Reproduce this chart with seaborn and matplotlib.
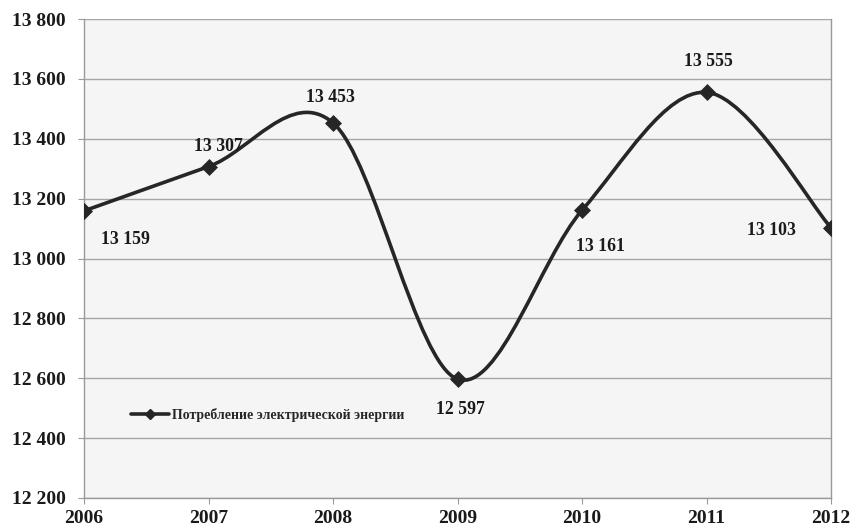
import matplotlib
matplotlib.use("Agg")
import matplotlib.pyplot as plt
import seaborn as sns
import numpy as np
from matplotlib.path import Path
from matplotlib.patches import PathPatch
from matplotlib.lines import Line2D
from matplotlib.ticker import FuncFormatter, MultipleLocator

years = [2006, 2007, 2008, 2009, 2010, 2011, 2012]
consumption = [13159, 13307, 13453, 12597, 13161, 13555, 13103]
series_name = "Потребление электрической энергии"

# label offsets in pixels (dx, dy) relative to each point
label_offsets = [(41, -29), (10, 20), (-3, 25), (3, -30), (18, -36), (2, 31), (-60, -3)]

line_color = "#262626"


def fmt_space(v, pos=None):
    return f"{int(round(v)):,}".replace(",", " ")


def smooth_path(xs, ys):
    # Excel-like smoothed line: cubic Bezier with Catmull-Rom control points
    pts = np.column_stack([xs, ys]).astype(float)
    n = len(pts)
    verts = [pts[0]]
    codes = [Path.MOVETO]
    for i in range(n - 1):
        p_prev = pts[i - 1] if i > 0 else pts[i]
        p_next2 = pts[i + 2] if i + 2 < n else pts[i + 1]
        c1 = pts[i] + (pts[i + 1] - p_prev) / 6
        c2 = pts[i + 1] - (p_next2 - pts[i]) / 6
        verts += [c1, c2, pts[i + 1]]
        codes += [Path.CURVE4] * 3
    return Path(verts, codes)


sns.set_style("white")
plt.rcParams["font.family"] = ["Liberation Serif", "DejaVu Serif"]
plt.rcParams["font.weight"] = "bold"

fig = plt.figure(figsize=(8.51, 5.27), dpi=100)
ax = fig.add_axes([84 / 851, 29 / 527, 747 / 851, 479 / 527])
ax.set_facecolor("#f5f5f5")

ax.add_patch(PathPatch(smooth_path(years, consumption), facecolor="none",
                       edgecolor=line_color, lw=2.6, zorder=3, capstyle="round"))
sns.scatterplot(x=years, y=consumption, marker="D", s=75, color=line_color,
                edgecolor=line_color, linewidth=0, ax=ax, zorder=4)

for x, y, (dx, dy) in zip(years, consumption, label_offsets):
    ax.annotate(fmt_space(y), (x, y), xytext=(dx, dy), textcoords="offset pixels",
                ha="center", va="center", fontsize=12.8, fontweight="bold", color="#1a1a1a")

ax.set_xlim(2006, 2012)
ax.set_ylim(12200, 13800)
ax.yaxis.set_major_locator(MultipleLocator(200))
ax.yaxis.set_major_formatter(FuncFormatter(fmt_space))
ax.set_xticks(years)
ax.set_xticklabels([str(y) for y in years])
ax.grid(axis="y", color="#a6a6a6", lw=1)
ax.set_axisbelow(True)

for side in ["left", "right", "bottom"]:
    ax.spines[side].set_color("#999999")
    ax.spines[side].set_linewidth(1)
ax.spines["top"].set_visible(False)

ax.tick_params(axis="y", length=4.5, width=0.8, color="#999999", pad=8.5,
               labelsize=14, left=True)
ax.tick_params(axis="x", length=4, width=0.8, color="#999999", pad=4.5,
               labelsize=14, bottom=True)
for lbl in ax.get_xticklabels() + ax.get_yticklabels():
    lbl.set_fontweight("bold")
    lbl.set_color("#1a1a1a")

handle = Line2D([], [], color=line_color, lw=2.6, marker="D", markersize=5.5)
leg = ax.legend([handle], [series_name], loc="center left",
                bbox_to_anchor=(47 / 747, 83 / 479), frameon=False,
                borderpad=0, borderaxespad=0, handlelength=2.75, handletextpad=0.2,
                prop={"family": "Liberation Serif", "weight": "bold", "size": 10})

ax.set_xlabel("")
ax.set_ylabel("")
fig.savefig("out.png", dpi=100)
